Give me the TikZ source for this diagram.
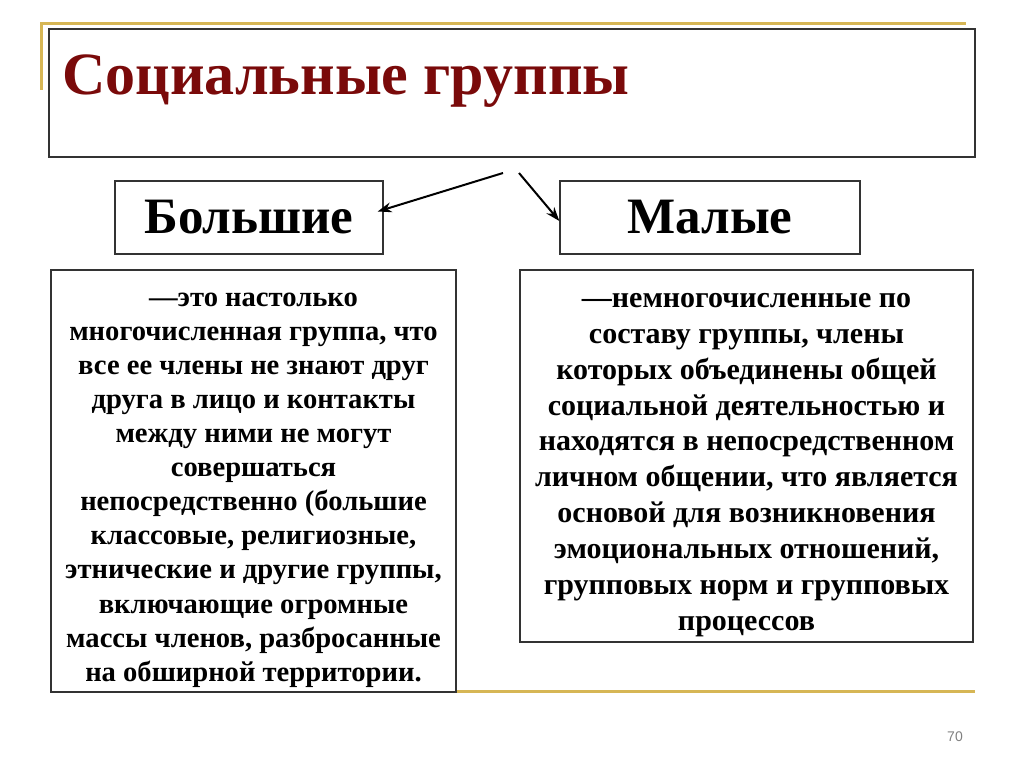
\documentclass[tikz,border=0pt]{standalone}
\usepackage{fontspec}
\setmainfont{Liberation Serif}
\newfontfamily\numfont{Liberation Sans}
\usetikzlibrary{arrows.meta}
\definecolor{gold}{HTML}{D6B655}
\definecolor{maroon}{HTML}{7A0A0A}
\definecolor{boxline}{HTML}{333333}
\tikzset{
  frame/.style={draw=boxline, line width=1.3pt, fill=white},
  goldline/.style={draw=gold, line width=3pt},
  arr/.style={line width=2pt, -{Stealth[length=14pt,width=10pt]}},
  body/.style={align=center, text=black},
  catfont/.style={font=\fontsize{51}{54}\selectfont\bfseries},
}
\begin{document}
\begin{tikzpicture}[x=1pt,y=-1pt]
\useasboundingbox (0,0) rectangle (1024,767);
% decorative gold lines
\draw[goldline] (40,24) -- (966,24);
\draw[goldline] (41,23) -- (41,90);
\draw[goldline] (50,691) -- (975,691);
% title box
\draw[frame] (49,29) rectangle (975,157);
\node[anchor=base west, font=\fontsize{60}{62}\selectfont\bfseries, text=maroon, inner sep=0] (title) at (62,95) {Социальные группы};
% category boxes
\node[frame, catfont, minimum width=268pt, minimum height=73pt] (big) at (249,217.5) {Большие};
\node[frame, catfont, minimum width=300pt, minimum height=73pt] (small) at (710,217.5) {Малые};
% arrows
\coordinate (s1) at (503,173);
\coordinate (s2) at (519,173);
\draw[arr] (s1) -- ([xshift=-6pt,yshift=6pt]big.east);
\draw[arr] (s2) -- ([yshift=-3.5pt]small.west);
% text boxes
\draw[frame] (51,270) rectangle (456,692);
\node[body, font=\fontsize{28.6}{34.1}\selectfont\bfseries] (lefttext) at (253.5,490) {—это настолько\\многочисленная группа, что\\все ее члены не знают друг\\друга в лицо и контакты\\между ними не могут\\совершаться\\непосредственно (большие\\классовые, религиозные,\\этнические и другие группы,\\включающие огромные\\массы членов, разбросанные\\на обширной территории.};
\draw[frame] (520,270) rectangle (973,642);
\node[body, font=\fontsize{30}{35.9}\selectfont\bfseries] (righttext) at (746.5,465) {—немногочисленные по\\составу группы, члены\\которых объединены общей\\социальной деятельностью и\\находятся в непосредственном\\личном общении, что является\\основой для возникновения\\эмоциональных отношений,\\групповых норм и групповых\\процессов};
% page number
\node[font=\numfont\fontsize{14}{16}\selectfont, text=gray] (pagenum) at (955,737) {70};
\end{tikzpicture}
\end{document}
